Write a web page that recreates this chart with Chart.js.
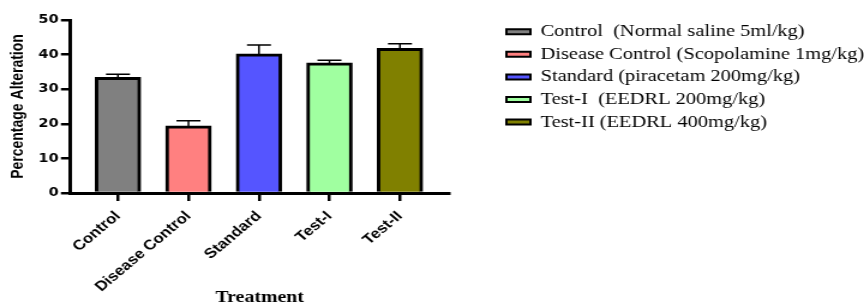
<!DOCTYPE html>
<html>
<head>
<meta charset="utf-8">
<script src="https://cdn.jsdelivr.net/npm/chart.js@4"></script>
<style>
  html, body { margin: 0; padding: 0; background: #fff; overflow: hidden; }
  /* the reference is stretched sideways, so the chart is drawn at 720 wide and scaled up */
  #wrap { width: 720px; height: 303px; transform: scaleX(1.2); transform-origin: 0 0; }
</style>
</head>
<body>
<div id="wrap"><canvas id="chart"></canvas></div>
<script>
// Chart data
const categories = ['Control', 'Disease Control', 'Standard', 'Test-I', 'Test-II'];
const legendLabels = [
    'Control  (Normal saline 5ml/kg)',
    'Disease Control (Scopolamine 1mg/kg)',
    'Standard (piracetam 200mg/kg)',
    'Test-I  (EEDRL 200mg/kg)',
    'Test-II (EEDRL 400mg/kg)'
];
const values = [33.4, 19.4, 40.2, 37.6, 41.8];
const errors = [0.9, 1.5, 2.6, 0.8, 1.3];
const barColors = ['#808080', '#ff8080', '#5555ff', '#a0ffa0', '#808000'];

Chart.defaults.color = '#000';

// upper error bars (SEM)
const errorBars = {
    id: 'errorBars',
    afterDatasetsDraw(chart) {
        const ctx = chart.ctx;
        const yScale = chart.scales.y;
        const meta = chart.getDatasetMeta(0);
        ctx.save();
        ctx.strokeStyle = '#000';
        ctx.lineWidth = 1.5;
        meta.data.forEach((bar, i) => {
            const top = yScale.getPixelForValue(values[i] + errors[i]);
            ctx.beginPath();
            ctx.moveTo(bar.x, bar.y);
            ctx.lineTo(bar.x, top);
            ctx.moveTo(bar.x - 10, top);
            ctx.lineTo(bar.x + 10, top);
            ctx.stroke();
        });
        ctx.restore();
    }
};

// keep a gap between the plot and the legend
const legendPlace = {
    id: 'legendPlace',
    beforeLayout(chart) {
        const lg = chart.legend;
        if (!lg || lg._patched) return;
        const fit = lg.fit;
        lg.fit = function () {
            fit.call(this);
            this.width = 346;
        };
        lg._patched = true;
    },
    afterLayout(chart) {
        const lg = chart.legend;
        const pad = lg.options.labels.padding;
        lg.left = 422 - pad;
        lg.right = lg.left + 400;
        lg.top = 23.2 - pad;
    }
};

new Chart(document.getElementById('chart'), {
    type: 'bar',
    data: {
        datasets: [{
            data: values.map((v, i) => ({ x: i, y: v })),
            backgroundColor: barColors,
            borderColor: '#000',
            borderWidth: 3,
            barThickness: 38
        }]
    },
    plugins: [errorBars, legendPlace],
    options: {
        responsive: true,
        maintainAspectRatio: false,
        animation: false,
        layout: { padding: { top: 20, left: 0, right: 0, bottom: 0 } },
        plugins: {
            tooltip: { enabled: false },
            legend: {
                position: 'right',
                align: 'start',
                labels: {
                    boxWidth: 20,
                    boxHeight: 5,
                    padding: 5.6,
                    font: { family: 'Liberation Serif', size: 17 },
                    generateLabels: () => legendLabels.map((t, i) => ({
                        text: t,
                        fillStyle: barColors[i],
                        strokeStyle: '#000',
                        lineWidth: 2,
                        hidden: false,
                        index: i
                    }))
                }
            }
        },
        scales: {
            x: {
                type: 'linear',
                offset: false,
                bounds: 'data',
                min: -0.673,
                max: 4.693,
                afterBuildTicks: (scale) => {
                    scale.ticks = categories.map((c, i) => ({ value: i }));
                },
                afterFit: (scale) => { scale.height = 110; },
                border: { color: '#000', width: 3 },
                grid: { offset: false, drawOnChartArea: false, color: '#000', lineWidth: 2.5, tickLength: 8 },
                ticks: {
                    autoSkip: false,
                    minRotation: 45,
                    maxRotation: 45,
                    padding: 7,
                    font: { family: 'Liberation Sans', weight: 'bold', size: 14 },
                    callback: (v) => categories[v]
                },
                title: {
                    display: true,
                    text: 'Treatment',
                    font: { family: 'Liberation Serif', weight: 'bold', size: 16.5 },
                    padding: { top: 0, bottom: -5 }
                }
            },
            y: {
                min: 0,
                max: 50,
                afterFit: (scale) => { scale.width = 58.75; },
                border: { color: '#000', width: 3 },
                grid: { drawOnChartArea: false, color: '#000', lineWidth: 2.5, tickLength: 8 },
                ticks: {
                    stepSize: 10,
                    padding: 2,
                    font: { family: 'DejaVu Sans', weight: 'bold', size: 12 }
                },
                title: {
                    display: true,
                    text: 'Percentage Alteration',
                    font: { family: 'Liberation Sans', weight: 'bold', size: 14 },
                    padding: { top: 6.6, bottom: 6.6 }
                }
            }
        }
    }
});
</script>
</body>
</html>
